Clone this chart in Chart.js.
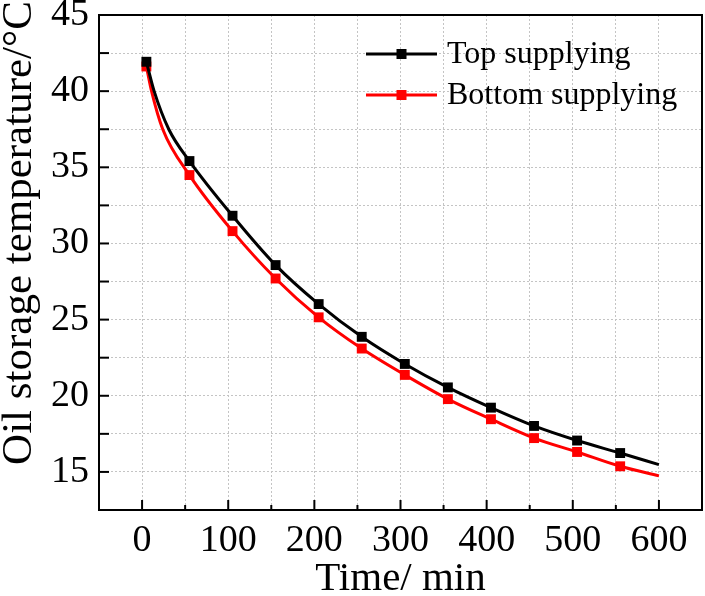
<!DOCTYPE html>
<html>
<head>
<meta charset="utf-8">
<script src="https://cdn.jsdelivr.net/npm/chart.js@4"></script>
<style>
  html, body { margin: 0; padding: 0; background: #fff; }
  #wrap { width: 705px; height: 596px; }
</style>
</head>
<body>
<div id="wrap"><canvas id="chart" width="705" height="596"></canvas></div>
<script>
const topTime = [5, 14, 31, 55, 105, 155, 205, 255, 305, 355, 405, 455, 505, 555, 600];
const topTemp = [41.93, 40.0, 37.5, 35.41, 31.82, 28.58, 26.02, 23.87, 22.09, 20.55, 19.22, 18.02, 17.06, 16.24, 15.48];
const bottomTime = [5, 11, 24, 55, 105, 155, 205, 255, 305, 355, 405, 455, 505, 555, 600];
const bottomTemp = [41.62, 40.0, 37.5, 34.49, 30.81, 27.7, 25.15, 23.1, 21.37, 19.78, 18.46, 17.22, 16.31, 15.37, 14.74];
const markerTimes = [5, 55, 105, 155, 205, 255, 305, 355, 405, 455, 505, 555];

const seriesNames = ['Top supplying', 'Bottom supplying'];
const seriesColors = ['#000000', '#ff0000'];
const xTitle = 'Time/ min';
const yTitle = 'Oil storage temperature/°C';

const FONT = "'Liberation Serif', 'Times New Roman', serif";

function toPoints(xs, ys) {
  return xs.map((x, i) => ({ x, y: ys[i] }));
}

function markerRadius(xs) {
  return xs.map(x => markerTimes.includes(x) ? 7 : 0);
}

// frame, inside ticks, y title and legend inside the plot
const framePlugin = {
  id: 'frame',
  afterDatasetsDraw(chart) {
    const { ctx, chartArea: a, scales } = chart;
    ctx.save();
    ctx.strokeStyle = '#000';
    ctx.lineWidth = 2;
    ctx.strokeRect(a.left, a.top, a.right - a.left, a.bottom - a.top);

    // x ticks (inside)
    scales.x.ticks.forEach(t => {
      if (t.value <= scales.x.min || t.value >= scales.x.max) return;
      const px = scales.x.getPixelForValue(t.value);
      const len = t.value % 100 === 0 ? 10 : 5;
      ctx.beginPath();
      ctx.moveTo(px, a.bottom);
      ctx.lineTo(px, a.bottom - len);
      ctx.stroke();
    });
    // y ticks (inside)
    scales.y.ticks.forEach(t => {
      if (t.value <= scales.y.min || t.value >= scales.y.max) return;
      const py = scales.y.getPixelForValue(t.value);
      ctx.beginPath();
      ctx.moveTo(a.left, py);
      ctx.lineTo(a.left + 10, py);
      ctx.stroke();
    });

    // y axis title, sits a bit above the middle like the original
    ctx.save();
    ctx.translate(31, 233);
    ctx.rotate(-Math.PI / 2);
    ctx.font = '43px ' + FONT;
    ctx.fillStyle = '#000';
    ctx.textAlign = 'center';
    ctx.textBaseline = 'alphabetic';
    ctx.fillText(yTitle, 0, 0);
    ctx.restore();

    // legend
    ctx.font = '32px ' + FONT;
    ctx.textBaseline = 'middle';
    ctx.textAlign = 'left';
    seriesNames.forEach((name, i) => {
      const y = 54 + i * 41;
      const x0 = 366, x1 = 437;
      ctx.strokeStyle = seriesColors[i];
      ctx.lineWidth = 3;
      ctx.beginPath();
      ctx.moveTo(x0, y);
      ctx.lineTo(x1, y);
      ctx.stroke();
      ctx.fillStyle = seriesColors[i];
      ctx.fillRect((x0 + x1) / 2 - 5, y - 5, 10, 10);
      ctx.fillStyle = '#000';
      ctx.fillText(name, 447, y + 1);
    });
    ctx.restore();
  }
};

const grid = {
  color: '#c4c4c4',
  lineWidth: 1,
  tickLength: 0,
  drawTicks: false
};

new Chart(document.getElementById('chart'), {
  type: 'line',
  data: {
    datasets: [
      {
        label: seriesNames[0],
        data: toPoints(topTime, topTemp),
        borderColor: seriesColors[0],
        backgroundColor: seriesColors[0],
        borderWidth: 3,
        pointStyle: 'rect',
        pointRadius: markerRadius(topTime),
        pointBorderWidth: 0,
        cubicInterpolationMode: 'monotone',
        fill: false
      },
      {
        label: seriesNames[1],
        data: toPoints(bottomTime, bottomTemp),
        borderColor: seriesColors[1],
        backgroundColor: seriesColors[1],
        borderWidth: 3,
        pointStyle: 'rect',
        pointRadius: markerRadius(bottomTime),
        pointBorderWidth: 0,
        cubicInterpolationMode: 'monotone',
        fill: false
      }
    ]
  },
  options: {
    responsive: false,
    animation: false,
    layout: { autoPadding: false, padding: { top: 15, right: 3, left: 0, bottom: 0 } },
    plugins: {
      legend: { display: false },
      tooltip: { enabled: false }
    },
    scales: {
      x: {
        type: 'linear',
        min: -50,
        max: 650,
        afterFit(scale) {
          scale.height = 86;
          scale.paddingLeft = 0;
          scale.paddingRight = 0;
        },
        grid: grid,
        border: { display: false, dash: [2, 2] },
        ticks: {
          stepSize: 50,
          color: '#000',
          padding: 8,
          maxRotation: 0,
          autoSkip: false,
          font: { family: FONT, size: 38 },
          callback: v => (v % 100 === 0 && v >= 0 && v <= 600) ? String(v) : ''
        },
        title: {
          display: true,
          text: xTitle,
          color: '#000',
          font: { family: FONT, size: 41, lineHeight: 1 },
          padding: { top: 0, bottom: -4 }
        }
      },
      y: {
        type: 'linear',
        min: 12.5,
        max: 45,
        afterFit(scale) {
          scale.width = 99;
          scale.paddingTop = 0;
          scale.paddingBottom = 0;
        },
        grid: grid,
        border: { display: false, dash: [2, 2] },
        ticks: {
          stepSize: 2.5,
          color: '#000',
          padding: 10,
          autoSkip: false,
          font: { family: FONT, size: 38 },
          callback: v => (v % 5 === 0) ? String(v) : ''
        }
      }
    }
  },
  plugins: [framePlugin]
});
</script>
</body>
</html>
